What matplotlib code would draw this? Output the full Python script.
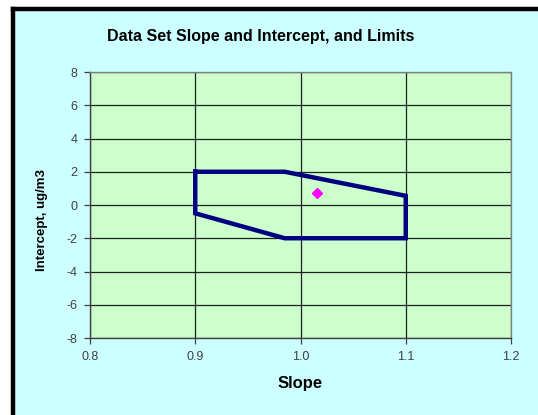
import matplotlib
matplotlib.use("Agg")
import matplotlib.pyplot as plt
from matplotlib.patches import Rectangle
from matplotlib.lines import Line2D

# limits polygon (slope, intercept), closed
limit_slope = [0.9, 0.985, 1.1, 1.1, 0.985, 0.9, 0.9]
limit_intercept = [2.0, 2.0, 0.55, -2.0, -2.0, -0.5, 2.0]

# data set result
data_slope = [1.016]
data_intercept = [0.7]

x_ticks = [0.8, 0.9, 1.0, 1.1, 1.2]
x_labels = ["0.8", "0.9", "1.0", "1.1", "1.2"]
y_ticks = [-8, -6, -4, -2, 0, 2, 4, 6, 8]

plt.rcParams['font.family'] = ['Liberation Sans', 'DejaVu Sans']
plt.rcParams['axes.unicode_minus'] = False

W, H = 538, 415
fig = plt.figure(figsize=(W / 100, H / 100), dpi=100, facecolor='white',
                 edgecolor='none')

# cyan chart area, black border only on top and left (rest is cut off)
left, top = 13 / W, 1 - 9.5 / H
fig.patches.append(Rectangle((left, 0), 1 - left, top, transform=fig.transFigure,
                             facecolor='#CCFFFF', edgecolor='none', zorder=-10))
fig.lines.append(Line2D([left, left], [0, top], transform=fig.transFigure,
                        color='black', linewidth=3.2, solid_capstyle='projecting'))
fig.lines.append(Line2D([left, 1], [top, top], transform=fig.transFigure,
                        color='black', linewidth=3.2, solid_capstyle='projecting'))

ax = fig.add_axes([90 / W, 1 - 338 / H, (511 - 90) / W, (338 - 72) / H])
ax.set_facecolor('#CCFFCC')

ax.plot(limit_slope, limit_intercept, color='#000080', linewidth=3.2,
        solid_joinstyle='miter', zorder=3)
ax.plot(data_slope, data_intercept, linestyle='none', marker='D', markersize=5.5,
        color='#FF00FF', zorder=4)

ax.set_xlim(0.8, 1.2)
ax.set_ylim(-8, 8)
ax.set_xticks(x_ticks)
ax.set_xticklabels(x_labels)
ax.set_yticks(y_ticks)
ax.grid(True, color='#202020', linewidth=0.9)
ax.set_axisbelow(True)

for s in ax.spines.values():
    s.set_color('#808080')
    s.set_linewidth(1.0)
ax.spines['left'].set_color('#404040')
ax.spines['bottom'].set_color('#404040')

ax.tick_params(direction='out', length=4, width=0.9, color='#404040',
               labelsize=9, labelcolor='#404040', pad=5)

ax.set_xlabel('Slope', fontsize=12, fontweight='bold', labelpad=10)
ax.set_ylabel('Intercept, ug/m3', fontsize=9.5, fontweight='bold')
# Excel puts the label a bit below the axis centre
ax.yaxis.set_label_coords(48 / W, 1 - 220 / H, transform=fig.transFigure)

fig.text(261 / W, 1 - 37 / H, 'Data Set Slope and Intercept, and Limits',
         ha='center', va='center', fontsize=11.5, fontweight='bold')

fig.savefig('out.png', dpi=100, facecolor='white', edgecolor='none')
